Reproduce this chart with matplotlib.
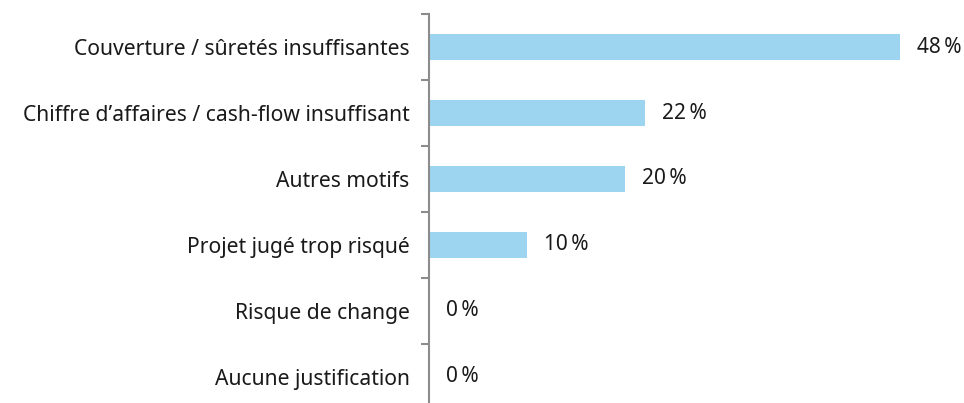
import numpy as np
import matplotlib.pyplot as plt

# motifs de refus et parts en %
motifs = ["Couverture / sûretés insuffisantes",
          "Chiffre d\u2019affaires / cash-flow insuffisant",
          "Autres motifs",
          "Projet jugé trop risqué",
          "Risque de change",
          "Aucune justification"]
parts = [48, 22, 20, 10, 0, 0]

plt.rcParams['font.family'] = ['Noto Sans', 'DejaVu Sans']

fig = plt.figure(figsize=(9.64, 4.03), dpi=100)
ax = fig.add_axes([0.445, -0.017, 0.555, 0.982])

y = np.arange(len(motifs))
ax.barh(y, parts, height=0.4, color='#9dd5f0', zorder=2)

for yi, v in zip(y, parts):
    ax.text(v + 1.7, yi, f"{v}\u2009%", va='center', ha='left',
            fontsize=15, color='#1a1a1a')

ax.set_xlim(0, 54.5)
ax.set_ylim(len(motifs) - 0.5, -0.5)
ax.set_yticks(y)
ax.set_yticklabels(motifs, fontsize=15.2, color='#1a1a1a')
ax.set_yticks(np.arange(len(motifs) + 1) - 0.5, minor=True)
ax.tick_params(axis='y', which='major', length=0, pad=14)
ax.tick_params(axis='y', which='minor', length=6, width=1.5, color='#8c8c8c')
ax.set_xticks([])

for s in ['top', 'right', 'bottom']:
    ax.spines[s].set_visible(False)
ax.spines['left'].set_color('#8c8c8c')
ax.spines['left'].set_linewidth(1.5)

fig.savefig('out.png', dpi=100)
